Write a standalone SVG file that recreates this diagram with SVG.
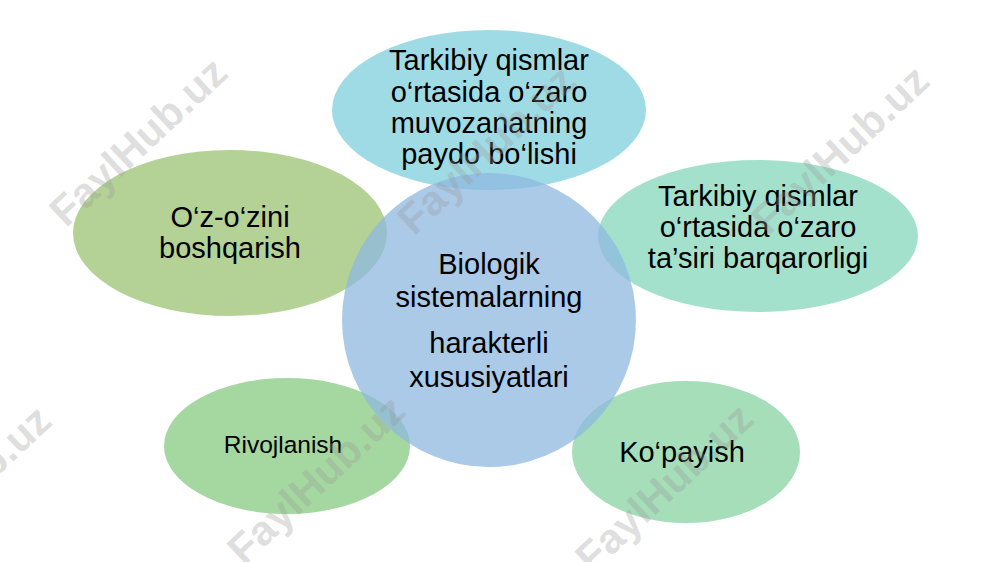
<svg xmlns="http://www.w3.org/2000/svg" width="1000" height="562" viewBox="0 0 1000 562">
  <style>
    .shape { fill-opacity: 0.75; stroke: none; }
    .lbl { font-family: "Liberation Sans", Arial, sans-serif; font-size: 29px; fill: #000; text-anchor: middle; }
    .wm { font-family: "Liberation Sans", Arial, sans-serif; font-weight: bold; font-size: 42px; fill: #999; fill-opacity: 0.33; text-anchor: middle; }
  </style>
  <rect x="0" y="0" width="1000" height="562" fill="#ffffff"/>
  <g id="connectors"/>
  <g id="node-top">
    <ellipse class="shape" cx="489" cy="110" rx="157" ry="80" fill="#7fcfdc"/>
  </g>
  <g id="node-right">
    <ellipse class="shape" cx="758" cy="236" rx="160" ry="76" fill="#86d7bc"/>
  </g>
  <g id="node-left">
    <ellipse class="shape" cx="230" cy="233" rx="157" ry="83" fill="#9bc373"/>
  </g>
  <g id="node-bottom-left">
    <ellipse class="shape" cx="287" cy="446" rx="123" ry="68" fill="#87ca80"/>
  </g>
  <g id="node-bottom-right">
    <ellipse class="shape" cx="686" cy="452" rx="114" ry="71" fill="#87d3a2"/>
  </g>
  <g id="node-center">
    <circle class="shape" cx="489" cy="320" r="147" fill="#8fb8e0"/>
  </g>
  <g id="labels">
    <text class="lbl" x="489" y="70">Tarkibiy qismlar</text>
    <text class="lbl" x="489" y="102">o‘rtasida o‘zaro</text>
    <text class="lbl" x="489" y="133">muvozanatning</text>
    <text class="lbl" x="489" y="164">paydo bo‘lishi</text>
    <text class="lbl" x="758" y="206">Tarkibiy qismlar</text>
    <text class="lbl" x="758" y="237">o‘rtasida o‘zaro</text>
    <text class="lbl" x="758" y="268">ta’siri barqarorligi</text>
    <text class="lbl" x="230" y="227">O‘z-o‘zini</text>
    <text class="lbl" x="230" y="258">boshqarish</text>
    <text class="lbl" x="489" y="274">Biologik</text>
    <text class="lbl" x="489" y="307">sistemalarning</text>
    <text class="lbl" x="489" y="353">harakterli</text>
    <text class="lbl" x="489" y="387">xususiyatlari</text>
    <text class="lbl" x="283" y="453" style="font-size:24.5px">Rivojlanish</text>
    <text class="lbl" x="682" y="462">Ko‘payish</text>
  </g>
  <g id="watermarks">
    <text class="wm" transform="translate(148,152) rotate(-43)">FaylHub.uz</text>
    <text class="wm" transform="translate(496,160) rotate(-43)">FaylHub.uz</text>
    <text class="wm" transform="translate(850,160) rotate(-43)">FaylHub.uz</text>
    <text class="wm" transform="translate(-28,500) rotate(-43)">FaylHub.uz</text>
    <text class="wm" transform="translate(326,490) rotate(-43)">FaylHub.uz</text>
    <text class="wm" transform="translate(674,498) rotate(-43)">FaylHub.uz</text>
  </g>
</svg>
